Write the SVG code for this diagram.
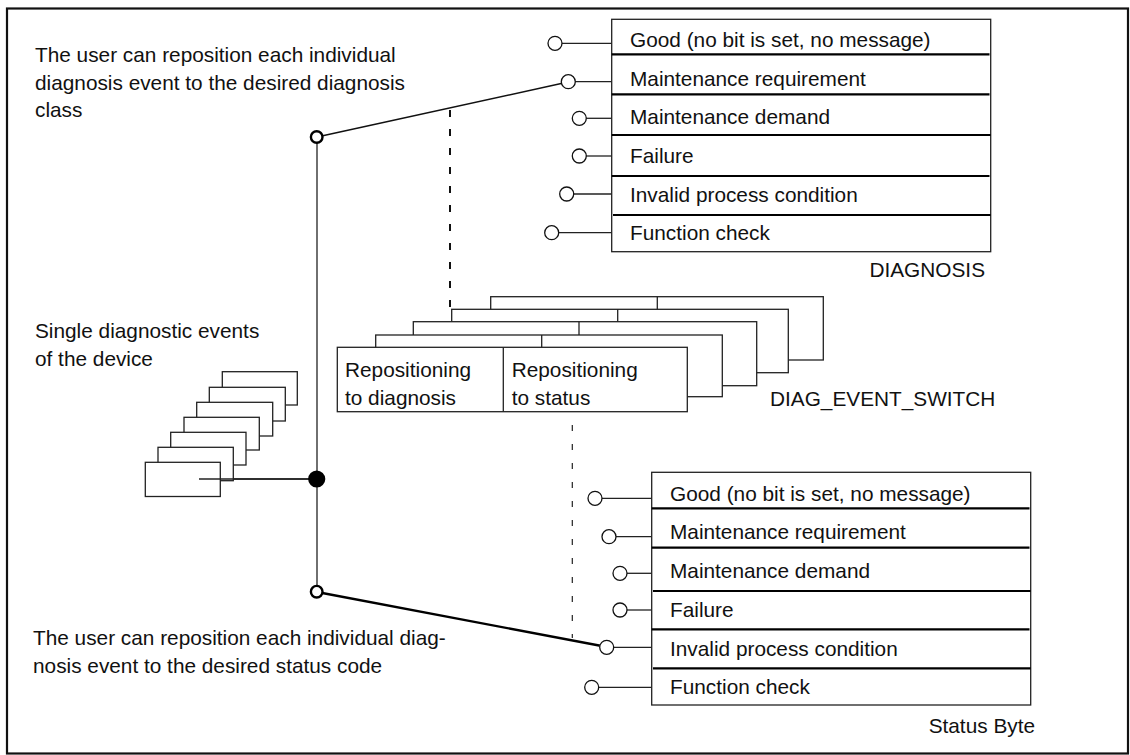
<svg xmlns="http://www.w3.org/2000/svg" width="1130" height="755" viewBox="0 0 1130 755">
<style>
text{font-family:"Liberation Sans",Arial,sans-serif;font-size:20.8px;fill:#111}
.box{fill:#fff;stroke:#222;stroke-width:1.3}
.row{stroke:#000;stroke-width:2.2}
.ln{stroke:#222;stroke-width:1.3;fill:none}
.pin{fill:#fff;stroke:#111;stroke-width:1.3}
.sw{fill:#fff;stroke:#000;stroke-width:2.4}
</style>
<rect x="0" y="0" width="1130" height="755" fill="#fff"/>
<rect id="frame" x="7" y="8.5" width="1121" height="745" fill="none" stroke="#111" stroke-width="2.2"/>

<g id="connectors">
  <line class="ln" x1="317" y1="137" x2="317" y2="592"/>
  <line x1="317" y1="137" x2="568" y2="82" stroke="#111" stroke-width="1.5"/>
  <line x1="317" y1="592" x2="607" y2="647" stroke="#000" stroke-width="2.4"/>
  <line class="ln" x1="199" y1="479" x2="317" y2="479"/>
  <line x1="450" y1="110" x2="450" y2="309" stroke="#111" stroke-width="2" stroke-dasharray="7 12"/>
  <line x1="572.3" y1="425" x2="572.3" y2="638" stroke="#222" stroke-width="1.2" stroke-dasharray="6 13"/>
</g>

<g id="note-top">
  <text x="35" y="62">The user can reposition each individual</text>
  <text x="35" y="90">diagnosis event to the desired diagnosis</text>
  <text x="35" y="117">class</text>
</g>

<g id="note-events">
  <text x="35" y="338">Single diagnostic events</text>
  <text x="35" y="366">of the device</text>
</g>

<g id="note-bottom">
  <text x="33" y="645">The user can reposition each individual diag-</text>
  <text x="33" y="673">nosis event to the desired status code</text>
</g>

<g id="diagnosis">
  <g class="ln">
    <line x1="562" y1="43.3" x2="611.7" y2="43.3"/>
    <line x1="575" y1="81.7" x2="611.7" y2="81.7"/>
    <line x1="586" y1="118.3" x2="611.7" y2="118.3"/>
    <line x1="586" y1="156" x2="611.7" y2="156"/>
    <line x1="573" y1="194" x2="611.7" y2="194"/>
    <line x1="558" y1="232.7" x2="611.7" y2="232.7"/>
  </g>
  <circle class="pin" cx="555" cy="43.3" r="7"/>
  <circle class="pin" cx="568.3" cy="81.7" r="7"/>
  <circle class="pin" cx="579.3" cy="118.3" r="7"/>
  <circle class="pin" cx="579.3" cy="156" r="7"/>
  <circle class="pin" cx="566.7" cy="194" r="7"/>
  <circle class="pin" cx="551.7" cy="232.7" r="7"/>
  <rect class="box" x="611.7" y="19.3" width="379" height="232.4"/>
  <line class="row" x1="611.7" y1="54.3" x2="989.5" y2="54.3"/>
  <line class="row" x1="611.7" y1="94.3" x2="989.5" y2="94.3"/>
  <line class="row" x1="611.7" y1="135" x2="990.7" y2="135"/>
  <line class="row" x1="611.7" y1="176" x2="989.5" y2="176"/>
  <line class="row" x1="613" y1="215" x2="990.7" y2="215"/>
  <text x="630" y="46.7">Good (no bit is set, no message)</text>
  <text x="630" y="86">Maintenance requirement</text>
  <text x="630" y="124.3">Maintenance demand</text>
  <text x="630" y="163.3">Failure</text>
  <text x="630" y="201.7">Invalid process condition</text>
  <text x="630" y="240">Function check</text>
  <text x="985" y="276.7" text-anchor="end">DIAGNOSIS</text>
</g>

<g id="diag-event-switch">
  <rect class="box" x="490.7" y="296.7" width="332.6" height="63.3"/>
  <line class="ln" x1="657.3" y1="296.7" x2="657.3" y2="360"/>
  <rect class="box" x="451.7" y="309.3" width="336.6" height="63.4"/>
  <line class="ln" x1="617.7" y1="309.3" x2="617.7" y2="372.7"/>
  <rect class="box" x="413.3" y="321.7" width="343.4" height="64"/>
  <line class="ln" x1="579" y1="321.7" x2="579" y2="385.7"/>
  <rect class="box" x="375.7" y="335" width="346.6" height="61.7"/>
  <line class="ln" x1="541.7" y1="335" x2="541.7" y2="396.7"/>
  <rect class="box" x="337.3" y="347.3" width="350" height="64.4"/>
  <line class="ln" x1="503.3" y1="347.3" x2="503.3" y2="411.7"/>
  <text x="345" y="376.7">Repositioning</text>
  <text x="345" y="405">to diagnosis</text>
  <text x="511.7" y="376.7">Repositioning</text>
  <text x="511.7" y="405">to status</text>
  <text x="770" y="405.7">DIAG_EVENT_SWITCH</text>
</g>

<g id="events">
  <rect class="box" x="222.3" y="371.7" width="75" height="33.3"/>
  <rect class="box" x="209.3" y="387.3" width="76" height="33.7"/>
  <rect class="box" x="196.7" y="402.3" width="76" height="33.7"/>
  <rect class="box" x="184" y="417.3" width="75.3" height="32.7"/>
  <rect class="box" x="170.7" y="432.3" width="75.3" height="32.7"/>
  <rect class="box" x="158" y="447.3" width="75.3" height="33.4"/>
  <rect class="box" x="145.3" y="462.3" width="75" height="34.2"/>
</g>

<g id="switch-nodes">
  <line class="ln" x1="199" y1="479" x2="310" y2="479"/>
  <circle cx="316.7" cy="479" r="8.6" fill="#000"/>
  <circle class="sw" cx="316.7" cy="137" r="5.8"/>
  <circle class="sw" cx="316.7" cy="591.7" r="5.8"/>
</g>

<g id="status-byte">
  <g class="ln">
    <line x1="602" y1="498.3" x2="651.7" y2="498.3"/>
    <line x1="616" y1="536.7" x2="651.7" y2="536.7"/>
    <line x1="627" y1="573.3" x2="651.7" y2="573.3"/>
    <line x1="627" y1="610" x2="651.7" y2="610"/>
    <line x1="613.7" y1="647.3" x2="651.7" y2="647.3"/>
    <line x1="598.7" y1="687.3" x2="651.7" y2="687.3"/>
  </g>
  <circle class="pin" cx="595" cy="498.3" r="7"/>
  <circle class="pin" cx="609" cy="536.7" r="7"/>
  <circle class="pin" cx="620" cy="573.3" r="7"/>
  <circle class="pin" cx="620" cy="610" r="7"/>
  <circle class="pin" cx="606.7" cy="647.3" r="7"/>
  <circle class="pin" cx="591.7" cy="687.3" r="7"/>
  <rect class="box" x="651.7" y="472.3" width="379" height="232.7"/>
  <line class="row" x1="651.7" y1="508.3" x2="1029.5" y2="508.3"/>
  <line class="row" x1="651.7" y1="547.7" x2="1029.5" y2="547.7"/>
  <line class="row" x1="653" y1="591" x2="1030.7" y2="591"/>
  <line class="row" x1="651.7" y1="629.3" x2="1029.5" y2="629.3"/>
  <line class="row" x1="653" y1="668.3" x2="1030.7" y2="668.3"/>
  <text x="670" y="501">Good (no bit is set, no message)</text>
  <text x="670" y="539.3">Maintenance requirement</text>
  <text x="670" y="577.7">Maintenance demand</text>
  <text x="670" y="616.7">Failure</text>
  <text x="670" y="656">Invalid process condition</text>
  <text x="670" y="694.3">Function check</text>
  <text x="1035" y="732.7" text-anchor="end">Status Byte</text>
</g>
</svg>
